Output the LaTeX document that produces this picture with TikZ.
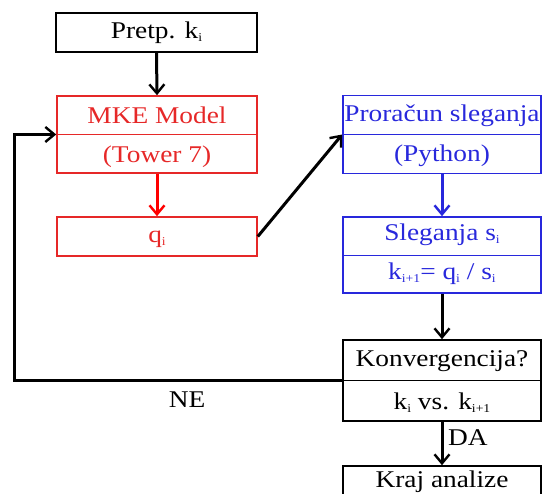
\documentclass[tikz,border=0pt]{standalone}
\usepackage{fontspec}
\setmainfont[FakeStretch=1.14]{Liberation Serif}
\usetikzlibrary{arrows.meta}
\definecolor{boxred}{RGB}{230,40,40}
\definecolor{arrred}{RGB}{255,0,0}
\definecolor{boxblue}{RGB}{40,40,220}
\newcommand\lo[1]{\raisebox{-0.2ex}{\fontsize{12pt}{12pt}\selectfont #1}}
\tikzset{
  x=1pt, y=-1pt,
  every node/.style={font=\fontsize{24pt}{26pt}\selectfont},
  box/.style={draw, line width=1.6pt, rectangle, minimum width=#1, inner sep=0pt},
  box/.default=200pt,
  txt/.style={inner sep=0pt, anchor=base},
  flow/.style={line width=3pt, -{Straight Barb[length=9pt, width=15pt, line width=2.4pt]}},
  divider/.style={line width=0.9pt},
}
\begin{document}
\begin{tikzpicture}
\useasboundingbox (0,0) rectangle (542,494);
\begin{scope}
\clip (0,0) rectangle (542,494);
% boxes
\node[box=201pt, minimum height=39pt] (pretp) at (156.5,32.5) {};
\node[box, draw=boxred, minimum height=77pt] (mke) at (157,134.5) {};
\node[box, draw=boxred, minimum height=39pt] (q) at (157,236.5) {};
\node[box=198pt, draw=boxblue, minimum height=78pt] (pror) at (442,134.5) {};
\node[box=198pt, draw=boxblue, minimum height=76pt] (sleg) at (442,255) {};
\node[box=198pt, minimum height=81pt] (konv) at (442,380.5) {};
\node[box=198pt, minimum height=60pt] (kraj) at (442,496) {};
% dividers
\draw[divider, boxred] (mke.west) -- (mke.east);
\draw[divider, boxblue] (pror.west) -- (pror.east);
\draw[divider, boxblue] (sleg.west) -- (sleg.east);
\draw[divider] (konv.west) -- (konv.east);
% texts
\node[txt] (t1) at (156.5,39) {Pretp. k\lo{i}};
\node[txt, text=boxred] (t2) at (157,124) {MKE Model};
\node[txt, text=boxred] (t3) at (157,163) {(Tower 7)};
\node[txt, text=boxred] (t4) at (157,243) {q\lo{i}};
\node[txt, text=boxblue] (t5) at (442,122) {Proračun sleganja};
\node[txt, text=boxblue] (t6) at (442,162) {(Python)};
\node[txt, text=boxblue] (t7) at (442,241) {Sleganja s\lo{i}};
\node[txt, text=boxblue] (t8) at (442,280) {k\lo{i+1}= q\lo{i} / s\lo{i}};
\node[txt] (t9) at (442,367) {Konvergencija?};
\node[txt] (t10) at (442,410) {k\lo{i} vs. k\lo{i+1}};
\node[txt] (t11) at (442,488) {Kraj analize};
% connectors
\coordinate (loop) at (14,380.5);
\draw[flow] (pretp.south) -- (mke.north);
\draw[flow, arrred] (mke.south) -- (q.north);
\draw[flow] (q.east) -- (pror.west);
\draw[flow, boxblue] (pror.south) -- (sleg.north);
\draw[flow] (sleg.south) -- (konv.north);
\draw[flow] (konv.west) -- (loop) |- (mke.west);
\draw[flow] (konv.south) -- (kraj.north);
\node[txt, anchor=base west] (da) at (448,446) {DA};
\node[txt] (ne) at (187,408) {NE};
\end{scope}
\end{tikzpicture}
\end{document}
